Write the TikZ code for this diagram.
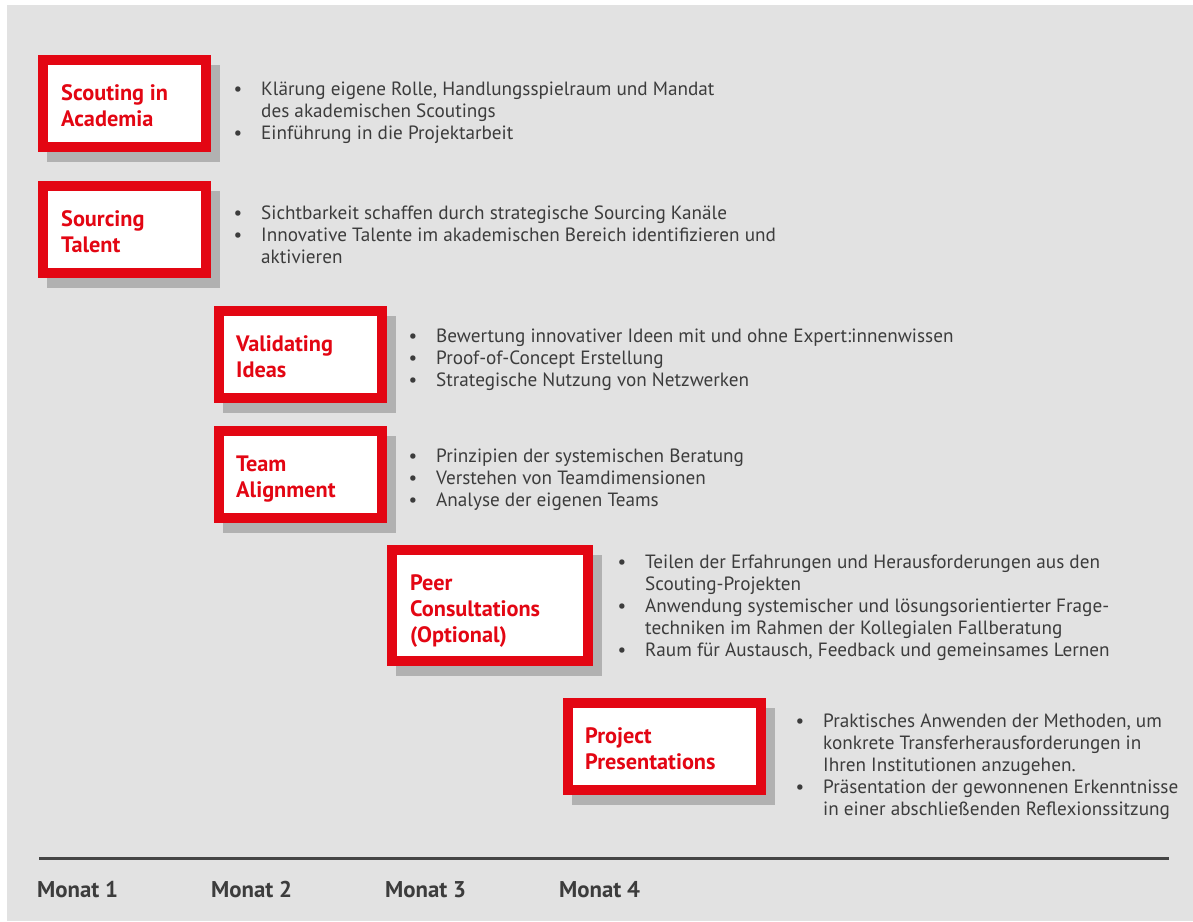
\documentclass[tikz,border=0pt]{standalone}
\usepackage{fontspec}
\setmainfont{PT Sans}
\definecolor{brandred}{HTML}{E30613}
\definecolor{bgc}{HTML}{E2E2E2}
\definecolor{shadowc}{HTML}{B1B1B1}
\definecolor{textgray}{HTML}{3C3C3C}
\definecolor{linegray}{HTML}{454545}
\pgfdeclarelayer{bgl}
\pgfdeclarelayer{shl}
\pgfsetlayers{bgl,shl,main}
\newcommand\bul{\llap{\textbullet\hspace{19pt}}}
\begin{document}
\begin{tikzpicture}[x=1pt,y=-1pt,
  stagebox/.style={draw=brandred, line width=10pt, fill=white, inner sep=0pt, outer sep=0pt, minimum width=163pt, minimum height=87pt},
  stagetitle/.style={anchor=base west, text=brandred, font=\fontsize{22.3}{26}\selectfont\bfseries, inner sep=0pt},
  bullets/.style={anchor=base west, text=textgray, font=\fontsize{19.2}{22.2}\selectfont, inner sep=0pt},
  month/.style={anchor=base west, text=textgray, font=\fontsize{22.8}{26}\selectfont\bfseries, inner sep=0pt},
  shadowfill/.style={fill=shadowc}]
\useasboundingbox (0,0) rectangle (1193,921);
\begin{pgfonlayer}{bgl}
\fill[white] (0,0) rectangle (1193,921);
\fill[bgc] (7,5) rectangle (1193,921);
\end{pgfonlayer}

% boxes
\node[stagebox] (b1) at (124.5,103.5) {};
\node[stagebox] (b2) at (124.5,229.5) {};
\node[stagebox] (b3) at (300.5,354.5) {};
\node[stagebox] (b4) at (300.5,474.5) {};
\node[stagebox, minimum width=196pt, minimum height=111pt] (b5) at (490,605.5) {};
\node[stagebox, minimum width=193pt] (b6) at (664.5,746.5) {};

\begin{pgfonlayer}{shl}
\foreach \b in {b1,b2,b3,b4,b5,b6}
  \fill[shadowfill] ([shift={(4,5)}]\b.north west) rectangle ([shift={(14,15)}]\b.south east);
\end{pgfonlayer}

% titles
\node[stagetitle] (t1) at (61,100.5) {\begin{tabular}[t]{@{}l@{}}Scouting in\\Academia\end{tabular}};
\node[stagetitle] (t2) at (61,226.5) {\begin{tabular}[t]{@{}l@{}}Sourcing\\Talent\end{tabular}};
\node[stagetitle] (t3) at (236,351.5) {\begin{tabular}[t]{@{}l@{}}Validating\\Ideas\end{tabular}};
\node[stagetitle] (t4) at (236,471.5) {\begin{tabular}[t]{@{}l@{}}Team\\Alignment\end{tabular}};
\node[stagetitle] (t5) at (410,590.5) {\begin{tabular}[t]{@{}l@{}}Peer\\Consultations\\(Optional)\end{tabular}};
\node[stagetitle] (t6) at (585,743.5) {\begin{tabular}[t]{@{}l@{}}Project\\Presentations\end{tabular}};

% bullet texts
\node[bullets] (l1) at (261,95) {\begin{tabular}[t]{@{}l@{}}
\bul Klärung eigene Rolle, Handlungsspielraum und Mandat\\
des akademischen Scoutings\\
\bul Einführung in die Projektarbeit\end{tabular}};
\node[bullets] (l2) at (261,219) {\begin{tabular}[t]{@{}l@{}}
\bul Sichtbarkeit schaffen durch strategische Sourcing Kanäle\\
\bul Innovative Talente im akademischen Bereich identifizieren und\\
aktivieren\end{tabular}};
\node[bullets] (l3) at (436,342) {\begin{tabular}[t]{@{}l@{}}
\bul Bewertung innovativer Ideen mit und ohne Expert:innenwissen\\
\bul Proof-of-Concept Erstellung\\
\bul Strategische Nutzung von Netzwerken\end{tabular}};
\node[bullets] (l4) at (436,462) {\begin{tabular}[t]{@{}l@{}}
\bul Prinzipien der systemischen Beratung\\
\bul Verstehen von Teamdimensionen\\
\bul Analyse der eigenen Teams\end{tabular}};
\node[bullets] (l5) at (645,568) {\begin{tabular}[t]{@{}l@{}}
\bul Teilen der Erfahrungen und Herausforderungen aus den\\
Scouting-Projekten\\
\bul Anwendung systemischer und lösungsorientierter Frage-\\
techniken im Rahmen der Kollegialen Fallberatung\\
\bul Raum für Austausch, Feedback und gemeinsames Lernen\end{tabular}};
\node[bullets] (l6) at (823,727) {\begin{tabular}[t]{@{}l@{}}
\bul Praktisches Anwenden der Methoden, um\\
konkrete Transferherausforderungen in\\
Ihren Institutionen anzugehen.\\
\bul Präsentation der gewonnenen Erkenntnisse\\
in einer abschließenden Reflexionssitzung\end{tabular}};

% timeline
\coordinate (tl0) at (39,858);
\coordinate (tl1) at (1169,858);
\draw[line width=3pt, linegray] (tl0) -- (tl1);
\node[month] (m1) at (37,897) {Monat 1};
\node[month] (m2) at (211,897) {Monat 2};
\node[month] (m3) at (385,897) {Monat 3};
\node[month] (m4) at (559,897) {Monat 4};
\end{tikzpicture}
\end{document}
